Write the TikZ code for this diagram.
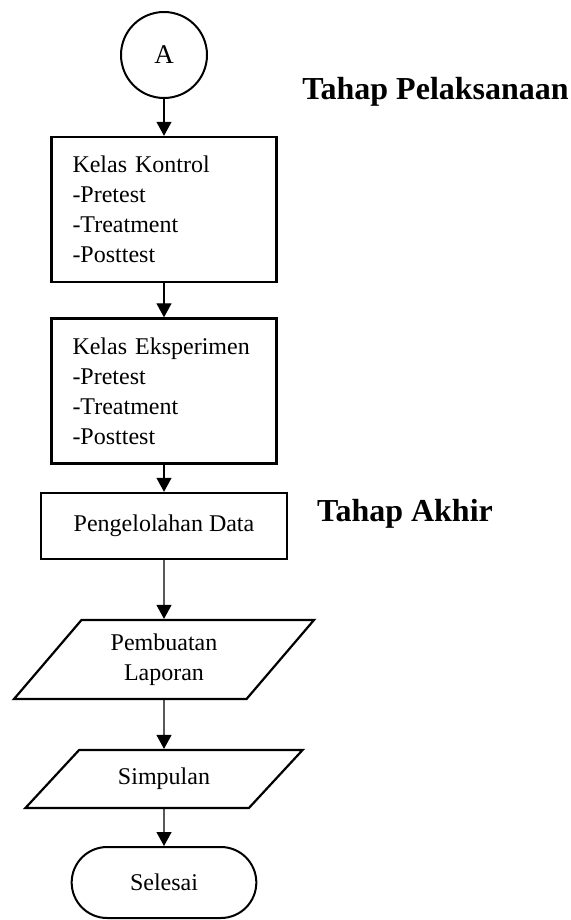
\documentclass[tikz,border=0pt]{standalone}
\usepackage{fontspec}
\setmainfont{Liberation Serif}
\usetikzlibrary{shapes.geometric,shapes.misc,arrows.meta}

\begin{document}
\begin{tikzpicture}[x=0.5pt, y=-0.5pt,
		kotak/.style={draw, line width=1.2pt, font=\fontsize{12}{15}\selectfont},
		kotakisi/.style={kotak, align=left, text width=91.5pt, inner xsep=10.5pt, minimum height=72.5pt},
		jajar/.style={trapezium, trapezium stretches=true, draw, line width=1.1pt, align=center, font=\fontsize{12}{15}\selectfont},
		ujung/.style={rounded rectangle, draw, line width=1pt, font=\fontsize{12}{15}\selectfont},
		panah/.style={line width=0.6pt, -{Triangle[width=7.5pt,length=7pt]}},
		judul/.style={font=\fontsize{16}{19}\selectfont\bfseries}]
	\useasboundingbox (0,0) rectangle (571,920);

	% konektor awal
	\node[circle, draw, line width=1pt, minimum size=43pt, inner sep=0pt, font=\fontsize{13.5}{16}\selectfont] (A) at (164,55) {A};
	% tahap pelaksanaan: dua kelas
	\node[kotakisi] (kontrol) at (164,209.5) {Kelas Kontrol\\-Pretest\\-Treatment\\-Posttest};
	\node[kotakisi] (eksperimen) at (164,391) {Kelas Eksperimen\\-Pretest\\-Treatment\\-Posttest};
	% tahap akhir
	\node[kotak, minimum width=123pt, minimum height=33pt] (olah) at (164,526) {Pengelolahan Data};
	\node[jajar, trapezium left angle=53, trapezium right angle=127, minimum width=150pt, minimum height=39.5pt] (laporan) at (164,659.5) {Pembuatan\\Laporan};
	\node[jajar, trapezium left angle=46.5, trapezium right angle=133.5, minimum width=139pt, minimum height=29pt] (simpulan) at (164,779) {Simpulan};
	\node[ujung, minimum width=99pt, minimum height=35.5pt] (selesai) at (164,882.5) {Selesai};

	% judul tahap
	\node[judul] (jpel) at (435.5,92) {Tahap Pelaksanaan};
	\node[judul] (jakhir) at (405,514) {Tahap Akhir};

	% panah antar langkah
	\foreach \a/\b in {A/kontrol, kontrol/eksperimen, eksperimen/olah, olah/laporan, laporan/simpulan, simpulan/selesai}
		\draw[panah] (\a) -- (\b);
\end{tikzpicture}
\end{document}
